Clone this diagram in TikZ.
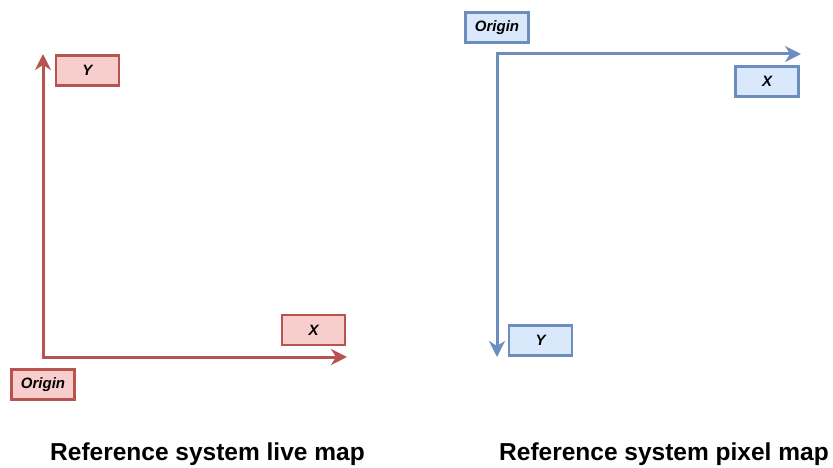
\documentclass[tikz,border=0pt]{standalone}
\usepackage{fontspec}
\setmainfont{Liberation Sans}
\usetikzlibrary{arrows.meta}
\definecolor{redline}{HTML}{B85450}
\definecolor{redfill}{HTML}{F8CECC}
\definecolor{blueline}{HTML}{6C8EBF}
\definecolor{bluefill}{HTML}{DAE8FC}
\tikzset{
  tag/.style={draw, line width=2.8pt, minimum width=63pt, minimum height=30pt,
    inner sep=0pt, font=\fontsize{15}{17}\selectfont\bfseries\itshape},
  redtag/.style={tag, draw=redline, fill=redfill},
  bluetag/.style={tag, draw=blueline, fill=bluefill},
  axis/.style={line width=3pt,
    -{Stealth[length=16pt,width=16pt,inset=5pt]}},
  caption/.style={font=\fontsize{24.5}{28}\selectfont\bfseries, inner sep=0pt}
}
\begin{document}
\begin{tikzpicture}[x=1pt,y=-1pt]
  \useasboundingbox (0,0) rectangle (833,468);
  % live map: origin at the lower left, y upwards
  \coordinate (lo) at (43,357);
  \coordinate (lx) at (347,357);
  \coordinate (ly) at (43,54);
  \draw[axis, redline] ([yshift=-1.5pt]lo) -- (ly);
  \draw[axis, redline] ([xshift=-1.5pt]lo) -- (lx);
  \node[redtag] (ytagL) at (87.5,70.5) {Y};
  \node[redtag] (xtagL) at (313.5,330) {X};
  \node[redtag] (otagL) at (43,384.5) {Origin};
  % pixel map: origin at the upper left, y downwards
  \coordinate (po) at (497,54);
  \coordinate (px) at (801,54);
  \coordinate (py) at (497,357);
  \draw[axis, blueline] ([xshift=-1.5pt]po) -- (px);
  \draw[axis, blueline] ([yshift=1.5pt]po) -- (py);
  \node[bluetag] (otagR) at (497,27.5) {Origin};
  \node[bluetag] (xtagR) at (767,81.5) {X};
  \node[bluetag] (ytagR) at (540.5,340.5) {Y};
  % captions
  \node[caption] (capL) at (207.5,454) {Reference system live map};
  \node[caption] (capR) at (664,454) {Reference system pixel map};
\end{tikzpicture}
\end{document}
